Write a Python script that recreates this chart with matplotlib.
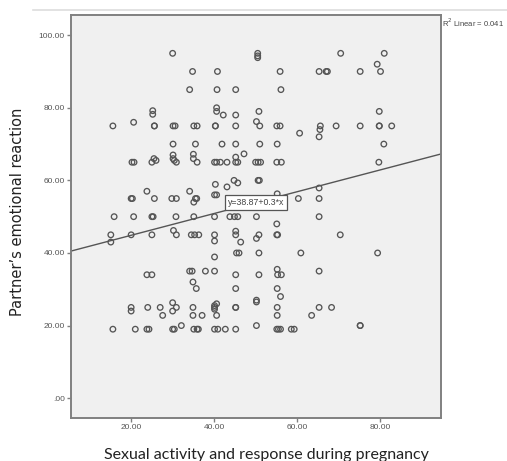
import matplotlib.pyplot as plt
import numpy as np
from matplotlib.lines import Line2D

# ── Data ───────────────────────────────────────────────────────────────
x_vals = [
    30, 50.5, 50.5, 50.5, 70.5, 81, 79.3,
    34.8, 40.8, 55.9, 65.3, 67, 67.3, 75.2, 80.1,
    34.1, 40.7, 45.2, 56.1,
    25.2, 25.2, 40.6, 40.6, 42.2, 45.2, 50.8, 79.8,
    15.6, 20.6, 25.6, 25.6, 30.1, 30.6, 35.1, 35.9, 40.3, 40.3, 45.2, 50.2,
    51, 55.1, 55.9, 60.6, 65.3, 65.5, 65.6, 69.4, 75.2, 79.8, 79.8, 82.8,
    30.1, 35.5, 41.9, 45.2, 51, 55.2, 80.9,
    30.1, 30.1, 35, 35, 45.2, 47.2, 25.5,
    20.2, 20.7, 25, 26, 30.4, 30.9, 35.9, 40.1, 40.6, 41.5, 43.1, 45.2,
    45.7, 50, 50.6, 51.2, 55.1, 56.2, 79.7,
    44.8, 45.7, 50.6, 50.9, 40.3, 43.1, 65.3,
    23.8, 34.1, 20, 20.3, 25.6, 29.8, 30.9, 35.5, 35.8, 35.1, 40.1, 40.6,
    60.3, 65.3, 55.2,
    15.9, 20.6, 25, 25.3, 30.8, 35.1, 40.1, 43.8, 44.9, 45.7, 50.2, 65.3, 55.1,
    15.1, 15.1, 20, 25, 30.2, 30.9, 34.5, 35.3, 36.3, 40.1, 40.1, 45.2,
    45.2, 46.4, 50.2, 50.8, 55.1, 55.3, 70.4,
    45.4, 46, 50.8, 60.9, 79.4, 40.1,
    34.1, 34.7, 37.9, 40.1, 55.2, 23.8, 25, 45.2, 50.8, 56.2, 55.3, 65.3,
    34.9, 35.7, 45.2, 55.2, 56, 50.2,
    20, 20, 24, 27, 30, 30, 30.9, 34.9, 40.1, 40.1, 40.1, 40.6, 45.2, 45.2,
    50.2, 55.2, 65.3, 68.3,
    27.6, 34.9, 37.1, 40.6, 55.2, 63.5,
    15.6, 21, 23.8, 24.3, 30, 30.4, 32.1, 35.1, 35.9, 36.2, 40.1, 40.9,
    42.7, 45.2, 50.2, 55.1, 55.5, 56, 58.6, 59.3, 75.2, 75.2,
]
y_vals = [
    95, 95, 94.3, 93.8, 95, 95, 92,
    90, 90, 90, 90, 90, 90, 90, 90,
    85, 85, 85, 85,
    79.2, 78.2, 80, 79, 78, 78, 79, 79,
    75, 76, 75, 75, 75, 75, 75, 75, 75, 75, 75, 76.2,
    75, 75, 75, 73, 72, 74, 75, 75, 75, 75, 75, 75,
    70, 70, 70, 70, 70, 70, 70,
    67, 66, 67.2, 66, 66.4, 67.3, 66,
    65, 65, 65, 65.5, 65.5, 65, 65, 65, 65, 65, 65, 65,
    65, 65, 65, 65, 65, 65, 65,
    60, 59.3, 60, 60, 58.9, 58.2, 57.9,
    57, 57, 55, 55, 55, 55, 55, 55, 55, 54, 56, 56,
    55, 55, 56.3,
    50, 50, 50, 50, 50, 50, 50, 50, 50, 50, 50, 50, 48,
    45, 43, 45, 45, 46.2, 45, 45, 45, 45, 45, 43.3, 46,
    45, 43, 44, 45, 45, 45, 45,
    40, 40, 40, 40, 40, 38.9,
    35, 35, 35, 35, 35.5, 34, 34, 34, 34, 34, 34, 35,
    32, 30.2, 30.2, 30.2, 28, 27,
    25, 24, 25, 25, 26.3, 24, 25, 25, 25.5, 25, 24.5, 26, 25, 25,
    26.5, 25, 25, 25,
    22.8, 22.8, 22.8, 22.8, 22.8, 22.8,
    19, 19, 19, 19, 19, 19, 20, 19, 19, 19, 19, 19,
    19, 19, 20, 19, 19, 19, 19, 19, 20, 20,
]

intercept = 38.87
slope = 0.3
r_squared = 0.041

x_ticks = [20, 40, 60, 80]
y_ticks = [0, 20, 40, 60, 80, 100]

# ── Figure ─────────────────────────────────────────────────────────────
fig = plt.figure(figsize=(5.07, 4.61), dpi=100)
ax = fig.add_axes([0.140, 0.093, 0.730, 0.874])
ax.set_facecolor("#f0f0f0")

ax.scatter(x_vals, y_vals, s=16, facecolors="none", edgecolors="#555555",
           linewidths=0.95, zorder=3)

ax.set_xlim(5.5, 94.7)
ax.set_ylim(-5.5, 105.5)

# fit line, drawn across the whole x range
xs = np.array(ax.get_xlim())
ax.plot(xs, intercept + slope * xs, color="#555555", lw=1.0, zorder=2)

ax.text(50.1, 53.9, f"y={intercept}+{slope}*x", fontsize=6.3,
        family="Liberation Sans", color="#444444", ha="center", va="center",
        zorder=4,
        bbox=dict(boxstyle="square,pad=0.3", fc="white", ec="#555555", lw=0.9))

for side in ["top", "right", "left", "bottom"]:
    ax.spines[side].set_color("#808080")
    ax.spines[side].set_linewidth(1.4)

ax.set_xticks(x_ticks)
ax.set_yticks(y_ticks)
ax.set_xticklabels([f"{t:.2f}" for t in x_ticks])
ax.set_yticklabels([f"{t:.2f}" if t else ".00" for t in y_ticks])
ax.tick_params(axis="both", direction="out", length=3, width=1.0,
               color="#808080", labelsize=6, labelcolor="#555555", pad=1.5)
for lbl in ax.get_xticklabels() + ax.get_yticklabels():
    lbl.set_family("Liberation Sans")

fig.text(0.034, 0.54, "Partner\u2019s emotional reaction", rotation=90,
         fontsize=10.5, family="DejaVu Sans", color="#222222",
         ha="center", va="center")
fig.text(0.525, 0.012, "Sexual activity and response during pregnancy",
         fontsize=11.5, family="Lato", color="#222222", ha="center",
         va="center")

fig.text(0.872, 0.950, "R$^2$ Linear = " + f"{r_squared}", fontsize=5.5,
         family="Liberation Sans", color="#444444", ha="left", va="center")

# faint rule across the top of the page
fig.add_artist(Line2D([0.066, 1.0], [0.978, 0.978], color="#dddddd", lw=1.2))

fig.savefig("out.png", dpi=100)
